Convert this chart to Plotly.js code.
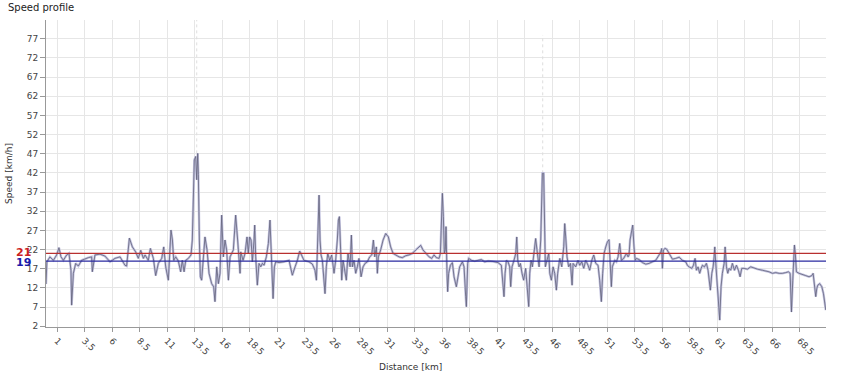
<!DOCTYPE html>
<html>
<head>
<meta charset="utf-8">
<script src="https://cdn.plot.ly/plotly-3.0.1.min.js"></script>
<style>html,body{margin:0;padding:0;background:#fff;}#chart{width:850px;height:388px;}</style>
</head>
<body>
<div id="chart"></div>
<script>
// Distance [km]
const distanceKm = [
0.00,0.08,0.36,0.67,0.97,1.18,1.36,1.58,1.88,2.09,2.27,2.33,2.49,2.70,2.94,3.24,3.85,4.15,4.21,4.45,4.91,5.36,5.82,6.27,6.73,7.18,7.33,7.49,7.58,7.85,8.15,8.39,8.61,8.85,9.00,9.30,9.49,9.76,9.97,10.21,10.52,10.70,10.88,11.12,11.27,11.36,11.49,11.61,11.79,12.03,12.24,12.39,12.55,12.70,12.94,13.18,13.30,13.39,13.48,13.61,13.70,13.79,13.85,13.94,14.03,14.15,14.30,14.45,14.64,14.82,15.06,15.24,15.36,15.52,15.67,15.82,15.97,16.12,16.27,16.42,16.58,16.73,17.03,17.24,17.42,17.64,
17.70,17.91,18.09,18.27,18.39,18.51,18.64,18.76,18.91,18.97,19.06,19.21,19.36,19.52,19.67,19.82,20.03,20.21,20.36,20.48,20.58,20.64,20.76,20.88,21.18,21.64,22.09,22.24,22.39,22.64,22.85,23.06,23.24,23.45,23.91,24.21,24.45,24.58,24.67,24.76,24.82,24.91,25.00,25.12,25.27,25.36,25.48,25.61,25.79,25.97,26.18,26.33,26.48,26.58,26.67,26.76,26.88,27.00,27.18,27.30,27.45,27.64,27.76,27.85,28.00,28.15,28.30,28.45,28.64,28.82,29.00,29.21,29.42,29.61,29.76,29.88,30.03,30.12,30.21,30.42,30.64,30.88,31.12,31.33,31.55,31.79,32.09,32.39,32.70,33.00,33.30,33.61,33.85,34.06,34.27,34.52,34.82,35.06,35.27,
35.48,35.73,35.85,35.94,36.03,36.12,36.21,36.30,36.36,36.45,36.51,36.60,36.76,36.94,37.09,37.30,37.45,37.60,37.85,38.00,38.15,38.21,38.33,38.42,38.67,38.97,39.27,39.57,39.88,40.18,40.63,41.09,41.39,41.54,41.63,41.73,41.85,42.00,42.15,42.24,42.36,42.54,42.70,42.79,42.88,43.00,43.12,43.27,43.42,43.60,43.76,43.88,43.97,44.09,44.21,44.36,44.51,44.63,44.82,44.97,45.06,45.12,45.24,45.30,45.39,45.54,45.70,45.79,45.94,46.09,46.24,46.39,46.51,46.70,46.88,47.06,47.15,47.24,47.36,47.51,47.67,47.82,47.91,48.15,48.36,48.51,48.70,48.88,49.06,49.27,49.42,49.61,49.79,49.97,50.18,50.33,50.48,50.60,50.73,50.88,51.03,51.18,51.30,51.39,51.48,51.70,51.85,52.00,52.15,52.30,52.51,52.76,52.91,
53.00,53.09,53.24,53.33,53.45,53.55,53.67,53.91,54.21,54.52,54.82,55.12,55.42,55.73,55.88,55.97,56.03,56.12,56.27,56.42,56.58,56.73,56.94,57.24,57.55,57.85,58.15,58.30,58.45,58.70,58.85,59.00,59.12,59.27,59.42,59.55,59.67,59.85,60.03,60.18,60.30,60.39,60.52,60.64,60.73,60.79,60.88,60.97,61.06,61.24,61.36,61.48,61.64,61.73,61.85,61.97,62.09,62.24,62.39,62.58,62.76,62.94,63.09,63.24,63.45,63.76,64.06,64.36,64.67,65.12,65.42,65.73,66.03,66.33,66.64,66.94,67.24,67.48,67.64,67.76,67.88,67.97,68.03,68.12,68.21,68.45,68.76,69.06,69.36,69.61,69.73,69.82,69.91,69.97,70.06,70.15,70.33,70.52,70.67,70.79,70.88
];
// Speed [km/h]
const speedKmh = [
13.0,18.8,20.1,19.2,20.6,22.5,20.1,19.2,20.6,21.0,16.6,7.5,15.8,18.4,17.7,19.2,19.9,20.1,16.2,20.6,20.8,20.3,18.8,19.7,20.1,17.9,17.7,22.7,25.0,22.7,21.4,19.7,21.8,19.7,20.6,19.2,22.3,19.7,15.2,18.4,19.7,22.7,17.5,14.0,24.5,27.1,24.5,19.2,20.1,19.0,16.2,19.2,16.2,19.2,19.7,20.6,24.5,33.2,45.4,46.3,40.2,47.1,41.6,24.5,14.9,14.0,20.1,25.3,21.9,15.8,13.1,12.3,8.4,17.5,13.1,15.8,31.0,20.1,24.5,21.9,14.0,20.1,21.9,31.0,24.5,15.8,
21.4,19.2,21.0,25.3,21.0,25.3,24.5,18.8,24.5,28.4,20.1,12.7,18.4,17.5,18.4,17.9,20.1,23.6,29.7,21.9,14.0,9.2,17.5,18.8,18.6,18.8,19.2,17.1,15.3,17.5,19.2,21.6,20.6,19.2,18.8,18.2,16.6,14.0,21.9,28.8,36.2,24.5,20.6,19.2,14.0,10.5,17.5,21.0,19.2,20.6,15.8,19.2,24.5,29.7,30.6,24.5,14.0,19.2,15.8,14.0,21.0,17.5,25.8,17.5,19.2,15.8,17.5,19.7,14.9,17.5,18.4,18.8,20.1,20.6,24.5,20.1,22.7,15.8,20.1,21.9,24.5,26.2,25.3,22.7,21.0,20.6,20.1,19.9,20.4,20.6,21.0,21.9,22.7,23.1,21.9,21.0,20.1,19.7,20.6,
19.9,19.7,21.0,28.0,36.7,30.6,21.0,21.9,28.0,15.8,11.0,15.8,17.9,18.6,14.9,12.3,14.9,17.5,18.8,17.5,9.7,7.1,18.4,19.7,19.2,19.0,19.2,19.4,18.8,19.0,18.9,18.6,17.9,13.1,9.7,15.8,19.2,18.8,17.5,12.3,17.5,19.2,21.0,25.3,19.2,17.5,18.4,15.8,14.0,17.1,11.8,7.1,15.8,19.2,17.5,21.0,24.9,21.9,17.5,24.5,33.2,41.9,41.9,28.8,17.5,19.2,21.0,15.8,14.0,17.5,15.8,11.4,15.8,19.7,17.5,22.7,28.8,25.3,20.1,17.5,18.4,12.7,18.4,17.5,19.2,17.9,18.8,17.1,19.2,17.9,16.6,19.2,20.6,18.4,17.9,14.0,8.4,15.8,21.0,22.7,24.0,24.6,17.5,12.3,17.5,19.2,18.8,20.1,23.6,19.2,19.7,21.0,20.1,
20.6,24.5,27.5,28.4,22.7,19.2,19.7,19.4,18.6,18.2,18.4,18.8,19.2,20.6,21.4,22.3,17.1,21.9,22.3,22.1,21.4,20.6,19.5,19.7,20.0,19.2,18.8,17.9,17.5,17.1,17.9,19.7,16.6,17.5,15.8,17.1,17.9,17.5,18.4,16.6,13.1,11.4,15.8,17.5,20.1,22.7,18.4,14.9,8.8,3.6,12.3,15.8,18.4,22.7,17.5,15.8,17.1,16.6,18.4,16.6,17.9,16.6,14.9,17.1,17.1,16.9,17.5,17.1,16.9,16.6,16.4,16.2,15.8,16.0,15.8,15.8,16.0,16.2,15.8,5.7,14.0,19.2,23.2,20.6,16.2,15.8,15.4,15.2,14.9,15.2,15.8,13.1,12.3,9.7,11.8,12.7,13.1,12.3,10.5,7.0,6.2
];
// isolated spikes (faint, clipped at top)
const spikeKm = [13.70, 45.15];
const spikeBase = [47.1, 41.9];
const spikeTop = [81.9, 78];
// reference lines
const upperRef = 21;
const lowerRef = 19;
const upperLabel = "21";
const lowerLabel = "19";

const xMax = 70.9;
const traces = [];
for (let i = 0; i < spikeKm.length; i++) {
  traces.push({
    x: [spikeKm[i], spikeKm[i]], y: [spikeBase[i], spikeTop[i]],
    type: 'scatter', mode: 'lines', hoverinfo: 'skip',
    line: {color: '#dedede', width: 1, dash: 'dot'}
  });
}
traces.push({
  x: distanceKm, y: speedKmh, type: 'scatter', mode: 'lines',
  line: {color: '#c4c4e0', width: 2.4}, hoverinfo: 'skip'
});
traces.push({
  x: distanceKm, y: speedKmh, type: 'scatter', mode: 'lines',
  line: {color: '#62627a', width: 0.8}
});
traces.push({
  x: [0, xMax], y: [upperRef, upperRef], type: 'scatter', mode: 'lines',
  line: {color: '#b83030', width: 1.2}
});
traces.push({
  x: [0, xMax], y: [lowerRef, lowerRef], type: 'scatter', mode: 'lines',
  line: {color: '#2a2aa0', width: 1.2}
});

const font = "DejaVu Sans, Verdana, sans-serif";
const layout = {
  width: 850, height: 388,
  margin: {l: 46, r: 24, t: 20, b: 61},
  paper_bgcolor: '#fff', plot_bgcolor: '#fff',
  showlegend: false,
  font: {family: font, size: 9, color: '#444'},
  title: {text: 'Speed profile', x: 8/850, xanchor: 'left', xref: 'container', y: 1 - 7/388, yanchor: 'middle', yref: 'container', font: {family: font, size: 10, color: '#222'}},
  xaxis: {
    range: [0, xMax], tick0: 1, dtick: 2.5, tickangle: 45,
    showgrid: true, gridcolor: '#e6e6e6', gridwidth: 1,
    zeroline: false, showline: true, linecolor: '#999', linewidth: 1,
    ticks: 'outside', ticklen: 4, tickcolor: '#999',
    tickfont: {family: font, size: 9, color: '#444'}
  },
  yaxis: {
    range: [1.8, 81.9], tick0: 2, dtick: 5,
    showgrid: true, gridcolor: '#e6e6e6', gridwidth: 1,
    zeroline: false, showline: true, linecolor: '#999', linewidth: 1,
    ticks: 'outside', ticklen: 5, tickcolor: '#999',
    tickfont: {family: font, size: 9, color: '#444'},
    title: {text: 'Speed [km/h]', standoff: 12, font: {family: font, size: 9, color: '#333'}}
  },
  annotations: [
    {text: 'Distance [km]', xref: 'paper', yref: 'paper', x: (410-46)/780, y: -40/307, xanchor: 'center', yanchor: 'middle', showarrow: false, font: {family: font, size: 9, color: '#333'}},
    {text: '<b>' + upperLabel + '</b>', xref: 'paper', yref: 'y', x: -13/780, y: upperRef + 0.2, xanchor: 'right', yanchor: 'middle', showarrow: false, font: {family: font, size: 11, color: '#cc2222'}},
    {text: '<b>' + lowerLabel + '</b>', xref: 'paper', yref: 'y', x: -13/780, y: lowerRef - 0.4, xanchor: 'right', yanchor: 'middle', showarrow: false, font: {family: font, size: 11, color: '#1a1aaa'}}
  ]
};
Plotly.newPlot('chart', traces, layout, {staticPlot: true, displayModeBar: false});
</script>
</body>
</html>
